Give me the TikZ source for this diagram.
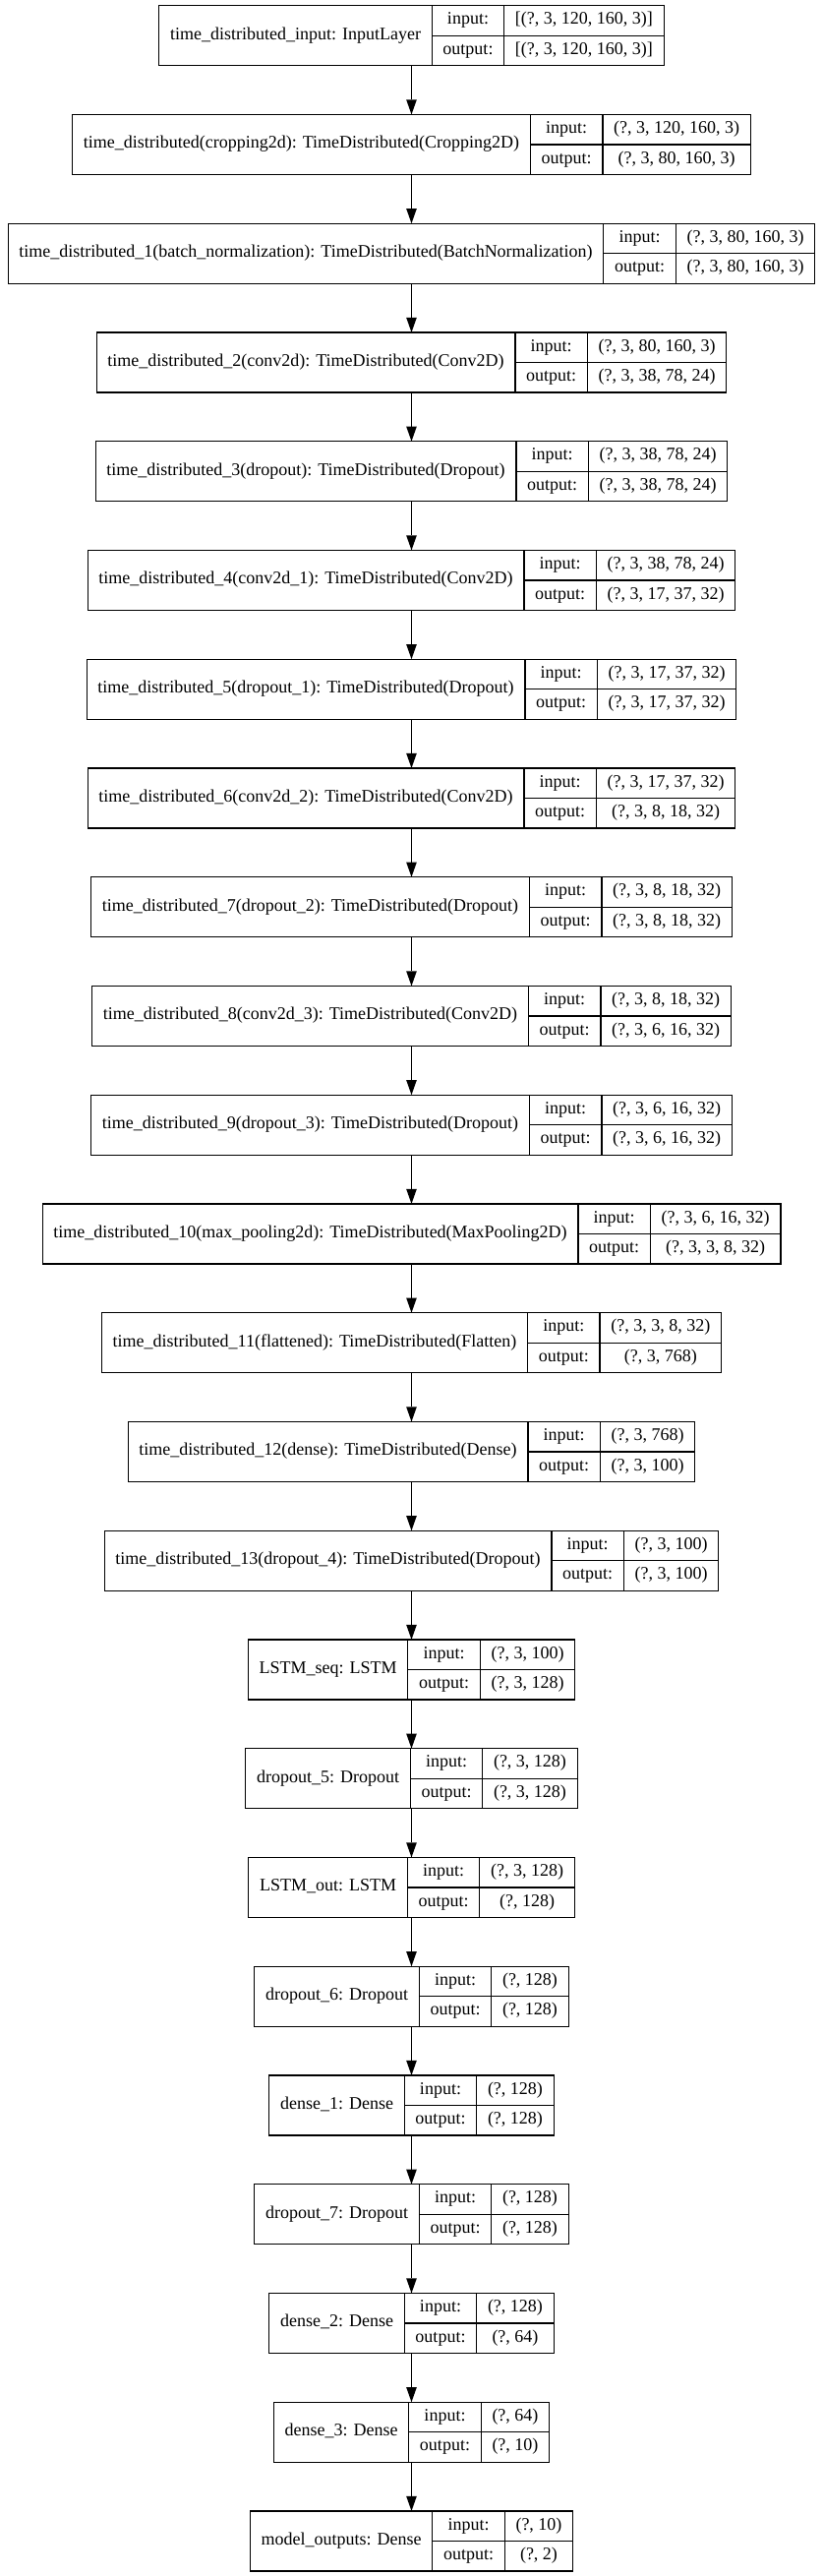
\documentclass[tikz,border=0pt]{standalone}
\usepackage{fontspec}
\setmainfont{Liberation Serif}

\newcommand\kfont{\normalfont\fontsize{18}{21}\selectfont}
\newlength\namew
\newlength\keyw
\newlength\valw
\newlength\tmpw
\newcommand\layer[5]{%
  \pgfinterruptpicture
    \settowidth\tmpw{\kfont #2}\global\namew=\tmpw
    \settowidth\tmpw{\kfont output:}\global\keyw=\tmpw
    \settowidth\tmpw{\kfont #3}\global\valw=\tmpw
    \settowidth\tmpw{\kfont #4}\ifdim\tmpw>\valw \global\valw=\tmpw\fi
  \endpgfinterruptpicture
  \addtolength\namew{22.5pt}\addtolength\keyw{22.5pt}\addtolength\valw{22.5pt}%
  \node [layer, minimum width=\namew+\keyw+\valw] (#1) at (418.5,{-36.2-110.75*#5}) {};
  \node [cell, minimum width=\namew, minimum height=61, anchor=west] (#1-name) at (#1.west) {#2};
  \node [cell, minimum width=\keyw, anchor=north west] (#1-inkey) at (#1-name.north east) {input:};
  \node [cell, minimum width=\keyw, anchor=north west] (#1-outkey) at (#1-inkey.south west) {output:};
  \node [cell, minimum width=\valw, anchor=north west] (#1-in) at (#1-inkey.north east) {#3};
  \node [cell, minimum width=\valw, anchor=north west] (#1-out) at (#1-in.south west) {#4};
}
\newcommand\link[2]{%
  \draw [black, line width=1.2pt] (#1.south) -- ([yshift=15pt]#2.north);
  \fill [black] (#2.north) -- ++(-5.3,15) -- ++(10.6,0) -- cycle;
}

\begin{document}
\begin{tikzpicture}[x=1pt, y=1pt]
    \tikzstyle{layer}=[minimum height=61, inner sep=0pt, outer sep=0pt]
    \tikzstyle{cell}=[draw=black, line width=1.2pt, minimum height=30.5, inner sep=0pt, outer sep=0pt, font=\kfont, text height=12pt, text depth=4pt]
    \useasboundingbox (0,0) rectangle (837,-2619);
    \layer{input}{time\_distributed\_input: InputLayer}{[(?, 3, 120, 160, 3)]}{[(?, 3, 120, 160, 3)]}{0}
    \layer{crop}{time\_distributed(cropping2d): TimeDistributed(Cropping2D)}{(?, 3, 120, 160, 3)}{(?, 3, 80, 160, 3)}{1}
    \layer{bn}{time\_distributed\_1(batch\_normalization): TimeDistributed(BatchNormalization)}{(?, 3, 80, 160, 3)}{(?, 3, 80, 160, 3)}{2}
    \layer{conv}{time\_distributed\_2(conv2d): TimeDistributed(Conv2D)}{(?, 3, 80, 160, 3)}{(?, 3, 38, 78, 24)}{3}
    \layer{drop}{time\_distributed\_3(dropout): TimeDistributed(Dropout)}{(?, 3, 38, 78, 24)}{(?, 3, 38, 78, 24)}{4}
    \layer{convone}{time\_distributed\_4(conv2d\_1): TimeDistributed(Conv2D)}{(?, 3, 38, 78, 24)}{(?, 3, 17, 37, 32)}{5}
    \layer{dropone}{time\_distributed\_5(dropout\_1): TimeDistributed(Dropout)}{(?, 3, 17, 37, 32)}{(?, 3, 17, 37, 32)}{6}
    \layer{convtwo}{time\_distributed\_6(conv2d\_2): TimeDistributed(Conv2D)}{(?, 3, 17, 37, 32)}{(?, 3, 8, 18, 32)}{7}
    \layer{droptwo}{time\_distributed\_7(dropout\_2): TimeDistributed(Dropout)}{(?, 3, 8, 18, 32)}{(?, 3, 8, 18, 32)}{8}
    \layer{convthree}{time\_distributed\_8(conv2d\_3): TimeDistributed(Conv2D)}{(?, 3, 8, 18, 32)}{(?, 3, 6, 16, 32)}{9}
    \layer{dropthree}{time\_distributed\_9(dropout\_3): TimeDistributed(Dropout)}{(?, 3, 6, 16, 32)}{(?, 3, 6, 16, 32)}{10}
    \layer{pool}{time\_distributed\_10(max\_pooling2d): TimeDistributed(MaxPooling2D)}{(?, 3, 6, 16, 32)}{(?, 3, 3, 8, 32)}{11}
    \layer{flat}{time\_distributed\_11(flattened): TimeDistributed(Flatten)}{(?, 3, 3, 8, 32)}{(?, 3, 768)}{12}
    \layer{dense}{time\_distributed\_12(dense): TimeDistributed(Dense)}{(?, 3, 768)}{(?, 3, 100)}{13}
    \layer{dropfour}{time\_distributed\_13(dropout\_4): TimeDistributed(Dropout)}{(?, 3, 100)}{(?, 3, 100)}{14}
    \layer{lstmseq}{LSTM\_seq: LSTM}{(?, 3, 100)}{(?, 3, 128)}{15}
    \layer{dropfive}{dropout\_5: Dropout}{(?, 3, 128)}{(?, 3, 128)}{16}
    \layer{lstmout}{LSTM\_out: LSTM}{(?, 3, 128)}{(?, 128)}{17}
    \layer{dropsix}{dropout\_6: Dropout}{(?, 128)}{(?, 128)}{18}
    \layer{denseone}{dense\_1: Dense}{(?, 128)}{(?, 128)}{19}
    \layer{dropseven}{dropout\_7: Dropout}{(?, 128)}{(?, 128)}{20}
    \layer{densetwo}{dense\_2: Dense}{(?, 128)}{(?, 64)}{21}
    \layer{densethree}{dense\_3: Dense}{(?, 64)}{(?, 10)}{22}
    \layer{outputs}{model\_outputs: Dense}{(?, 10)}{(?, 2)}{23}
    \link{input}{crop}
    \link{crop}{bn}
    \link{bn}{conv}
    \link{conv}{drop}
    \link{drop}{convone}
    \link{convone}{dropone}
    \link{dropone}{convtwo}
    \link{convtwo}{droptwo}
    \link{droptwo}{convthree}
    \link{convthree}{dropthree}
    \link{dropthree}{pool}
    \link{pool}{flat}
    \link{flat}{dense}
    \link{dense}{dropfour}
    \link{dropfour}{lstmseq}
    \link{lstmseq}{dropfive}
    \link{dropfive}{lstmout}
    \link{lstmout}{dropsix}
    \link{dropsix}{denseone}
    \link{denseone}{dropseven}
    \link{dropseven}{densetwo}
    \link{densetwo}{densethree}
    \link{densethree}{outputs}
\end{tikzpicture}
\end{document}
